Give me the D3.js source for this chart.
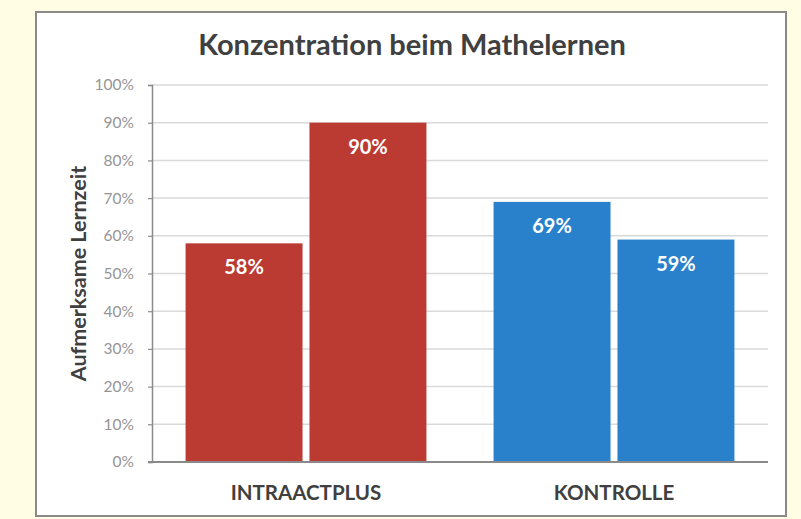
<!DOCTYPE html>
<html>
<head>
<meta charset="utf-8">
<script src="https://cdn.jsdelivr.net/npm/d3@7"></script>
<style>
  body { margin: 0; background: #fffde3; }
  svg { display: block; font-family: Lato, "Open Sans", sans-serif; }
</style>
</head>
<body>
<div id="chart"></div>
<script>
// data
var categories = ["INTRAACTPLUS", "KONTROLLE"];
var firstBars = [0.58, 0.69];
var secondBars = [0.90, 0.59];
var barColors = ["#bb3b33", "#2a81cb"];
var yTicks = [0, 0.1, 0.2, 0.3, 0.4, 0.5, 0.6, 0.7, 0.8, 0.9, 1.0];

var svgWidth = 801;
var svgHeight = 519;

var plot = { left: 152, right: 768, top: 85, bottom: 462 };

var svg = d3.select("#chart")
  .append("svg")
  .attr("width", svgWidth)
  .attr("height", svgHeight);

svg.append("rect")
  .attr("width", svgWidth)
  .attr("height", svgHeight)
  .attr("fill", "#fffde3");

// chart frame
svg.append("rect")
  .attr("x", 36)
  .attr("y", 12)
  .attr("width", 750)
  .attr("height", 504)
  .attr("fill", "#ffffff")
  .attr("stroke", "#8a8a8a")
  .attr("stroke-width", 2);

var x0 = d3.scaleBand()
  .domain(categories)
  .range([plot.left, plot.right])
  .paddingInner(0.218)
  .paddingOuter(0.109);

var x1 = d3.scaleBand()
  .domain([0, 1])
  .range([0, x0.bandwidth()])
  .paddingInner(0.056);

var y = d3.scaleLinear()
  .domain([0, 1])
  .range([plot.bottom, plot.top]);

// gridlines
svg.append("g")
  .selectAll("line")
  .data(yTicks.filter(d => d > 0))
  .enter()
  .append("line")
  .attr("x1", plot.left)
  .attr("x2", plot.right)
  .attr("y1", d => y(d))
  .attr("y2", d => y(d))
  .attr("stroke", "#dadada")
  .attr("stroke-width", 1.5);

// bars
var rows = categories.map((c, i) => ({ cat: c, vals: [firstBars[i], secondBars[i]], color: barColors[i] }));

var groups = svg.selectAll(".grp")
  .data(rows)
  .enter()
  .append("g")
  .attr("class", "grp")
  .attr("transform", d => `translate(${x0(d.cat)}, 0)`);

groups.selectAll("rect")
  .data(d => d.vals.map((v, j) => ({ v: v, j: j, color: d.color })))
  .enter()
  .append("rect")
  .attr("x", d => x1(d.j))
  .attr("y", d => y(d.v))
  .attr("width", x1.bandwidth())
  .attr("height", d => y(0) - y(d.v))
  .attr("fill", d => d.color);

groups.selectAll("text")
  .data(d => d.vals.map((v, j) => ({ v: v, j: j })))
  .enter()
  .append("text")
  .attr("x", d => x1(d.j) + x1.bandwidth() / 2)
  .attr("y", d => y(d.v) + 31)
  .attr("text-anchor", "middle")
  .attr("fill", "#ffffff")
  .attr("font-weight", "bold")
  .attr("font-size", "20px")
  .text(d => d3.format(".0%")(d.v));

// y axis
var leftAxis = d3.axisLeft(y)
  .tickValues(yTicks)
  .tickFormat(d3.format(".0%"))
  .tickSize(4)
  .tickPadding(14);

var yAxis = svg.append("g")
  .attr("transform", `translate(${plot.left}, 0)`)
  .call(leftAxis);

yAxis.select(".domain").attr("stroke", "#8a8a8a").attr("stroke-width", 1.5);
yAxis.selectAll(".tick line").attr("stroke", "#8a8a8a").attr("stroke-width", 1.2);
yAxis.selectAll(".tick text")
  .attr("fill", "#959595")
  .attr("font-size", "15.5px")
  .attr("font-family", "Lato, sans-serif");

// baseline
svg.append("line")
  .attr("x1", plot.left - 4)
  .attr("x2", plot.right)
  .attr("y1", y(0))
  .attr("y2", y(0))
  .attr("stroke", "#8a8a8a")
  .attr("stroke-width", 2);

// category labels
svg.append("g")
  .selectAll("text")
  .data(categories)
  .enter()
  .append("text")
  .attr("x", d => x0(d) + x0.bandwidth() / 2)
  .attr("y", 500)
  .attr("text-anchor", "middle")
  .attr("fill", "#404040")
  .attr("font-weight", "bold")
  .attr("font-size", "20.5px")
  .text(d => d);

// y axis title
svg.append("text")
  .attr("transform", `translate(86, ${(plot.top + plot.bottom) / 2}) rotate(-90)`)
  .attr("text-anchor", "middle")
  .attr("fill", "#404040")
  .attr("font-weight", "bold")
  .attr("font-size", "21.5px")
  .text("Aufmerksame Lernzeit");

// title
svg.append("text")
  .attr("x", 412)
  .attr("y", 55)
  .attr("text-anchor", "middle")
  .attr("fill", "#404040")
  .attr("font-weight", "bold")
  .attr("font-size", "29px")
  .text("Konzentration beim Mathelernen");
</script>
</body>
</html>
